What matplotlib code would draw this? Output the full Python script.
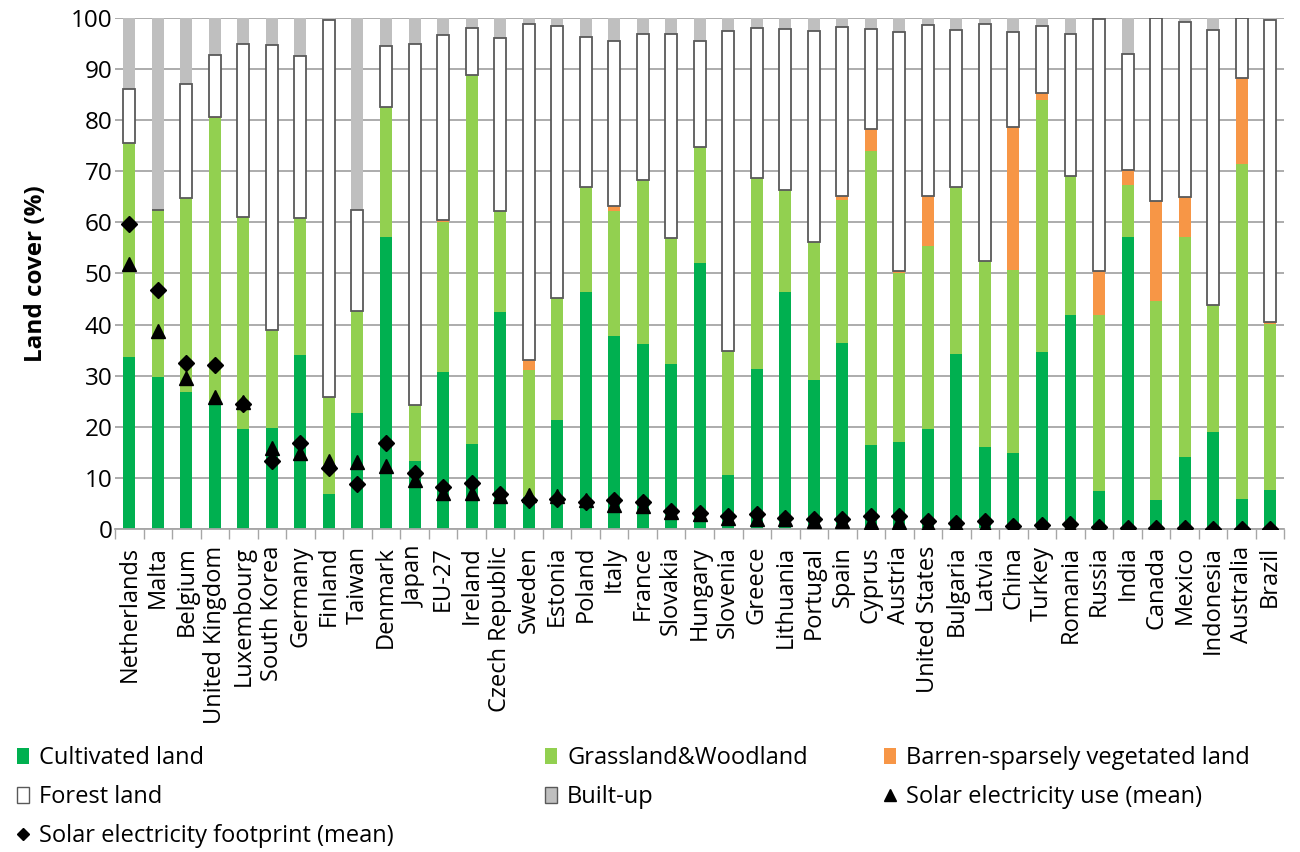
import numpy as np
import matplotlib.pyplot as plt
from matplotlib.patches import Patch
from matplotlib.lines import Line2D

plt.rcParams['font.family'] = ['Open Sans', 'DejaVu Sans']

countries = ['Netherlands', 'Malta', 'Belgium', 'United Kingdom', 'Luxembourg',
             'South Korea', 'Germany', 'Finland', 'Taiwan', 'Denmark', 'Japan',
             'EU-27', 'Ireland', 'Czech Republic', 'Sweden', 'Estonia', 'Poland',
             'Italy', 'France', 'Slovakia', 'Hungary', 'Slovenia', 'Greece',
             'Lithuania', 'Portugal', 'Spain', 'Cyprus', 'Austria', 'United States',
             'Bulgaria', 'Latvia', 'China', 'Turkey', 'Romania', 'Russia', 'India',
             'Canada', 'Mexico', 'Indonesia', 'Australia', 'Brazil']

# land cover shares (%)
cultivated = [33.7, 29.8, 26.9, 25.0, 19.5, 19.8, 34.1, 6.8, 22.7, 57.1, 13.4,
              30.8, 16.6, 42.5, 6.3, 21.4, 46.3, 37.7, 36.2, 32.2, 52.1, 10.5,
              31.3, 46.3, 29.1, 36.5, 16.4, 17.1, 19.5, 34.3, 16.1, 14.9, 34.6,
              41.8, 7.5, 57.1, 5.7, 14.1, 18.9, 5.9, 7.6]
grassland = [41.8, 32.6, 37.9, 55.5, 41.6, 19.1, 26.8, 19.1, 20.0, 25.5, 10.8,
             29.2, 72.2, 19.7, 24.9, 23.9, 20.6, 24.6, 32.0, 24.7, 22.7, 24.4,
             37.3, 20.0, 27.0, 27.9, 57.5, 32.9, 35.8, 32.6, 36.4, 35.8, 49.4,
             27.2, 34.4, 10.3, 38.9, 43.1, 25.0, 65.6, 32.5]
barren = [0.0, 0.0, 0.0, 0.2, 0.0, 0.0, 0.0, 0.0, 0.0, 0.0, 0.0,
          0.5, 0.0, 0.0, 1.8, 0.0, 0.0, 1.0, 0.0, 0.0, 0.0, 0.0,
          0.0, 0.0, 0.0, 0.8, 4.4, 0.4, 9.9, 0.0, 0.0, 27.9, 1.3,
          0.0, 8.5, 2.9, 19.5, 7.8, 0.0, 16.7, 0.5]
forest = [10.6, 0.0, 22.3, 12.0, 33.8, 55.8, 31.6, 73.6, 19.7, 11.9, 70.7,
          36.1, 9.3, 33.8, 65.8, 53.2, 29.4, 32.2, 28.6, 39.9, 20.7, 62.5,
          29.5, 31.5, 41.3, 33.0, 19.6, 46.8, 33.4, 30.8, 46.3, 18.6, 13.1,
          27.8, 49.4, 22.7, 35.8, 34.2, 53.8, 11.8, 59.0]
builtup = [100 - a - b - c - d for a, b, c, d in zip(cultivated, grassland, barren, forest)]

# solar electricity (mean values)
solar_use = [51.8, 38.7, 29.6, 25.9, 24.9, 15.8, 14.9, 13.4, 13.2, 12.4, 9.7,
             7.1, 7.1, 6.4, 6.6, 6.4, 5.6, 4.8, 4.6, 3.4, 2.9, 2.2, 1.9, 1.9,
             1.6, 1.6, 1.4, 1.4, 1.0, 0.9, 0.7, 0.3, 0.5, 0.6, 0.2, 0.1, 0.1,
             0.1, 0.05, 0.05, 0.05]
solar_footprint = [59.7, 46.7, 32.5, 32.1, 24.5, 13.4, 16.8, 12.0, 8.9, 16.8, 11.0,
                   8.3, 9.1, 6.8, 5.7, 5.9, 5.3, 5.7, 5.3, 3.6, 3.2, 2.5, 2.9,
                   2.2, 1.9, 1.9, 2.6, 2.5, 1.5, 1.2, 1.6, 0.6, 0.8, 0.9, 0.5,
                   0.3, 0.3, 0.2, 0.1, 0.1, 0.1]

c_cult = '#00B050'
c_grass = '#92D050'
c_barren = '#F79646'
c_built = '#BFBFBF'
edge = '#595959'

fig = plt.figure(figsize=(13, 8.52), dpi=100)
ax = fig.add_axes([0.0885, 0.379, 0.8995, 0.6])

x = np.arange(len(countries))
w = 0.42
bottom = np.zeros(len(countries))
ax.bar(x, cultivated, w, bottom=bottom, color=c_cult, zorder=2)
bottom += cultivated
ax.bar(x, grassland, w, bottom=bottom, color=c_grass, zorder=2)
bottom += grassland
ax.bar(x, barren, w, bottom=bottom, color=c_barren, zorder=2)
bottom += barren
ax.bar(x, forest, w, bottom=bottom, color='white', edgecolor=edge, linewidth=1.3, zorder=3)
bottom += forest
ax.bar(x, builtup, w, bottom=bottom, color=c_built, zorder=2)

ax.plot(x, solar_footprint, 'D', color='black', markersize=8, zorder=5)
ax.plot(x, solar_use, '^', color='black', markersize=10, zorder=6)

ax.set_xlim(-0.5, len(countries) - 0.5)
ax.set_ylim(0, 100)
ax.set_yticks(np.arange(0, 101, 10))
ax.yaxis.grid(True, color='#A6A6A6', linewidth=1.3, zorder=0)
ax.set_axisbelow(True)
ax.tick_params(axis='y', length=0, labelsize=17.5, pad=2)

ax.set_xticks(x)
ax.set_xticklabels(countries, rotation=90, fontsize=17)
ax.set_xticks(np.arange(-0.5, len(countries)), minor=True)
ax.tick_params(axis='x', which='major', length=0, pad=12)
ax.tick_params(axis='x', which='minor', length=7, width=1, color='#A6A6A6', direction='out')

for side in ['top', 'right', 'left']:
    ax.spines[side].set_visible(False)
ax.spines['bottom'].set_color('#A6A6A6')
ax.spines['bottom'].set_linewidth(1.3)

ax.set_ylabel('Land cover (%)', fontsize=17.5, fontweight='bold', labelpad=16)

# legend laid out as three columns
h_cult = Patch(facecolor=c_cult, label='Cultivated land')
h_grass = Patch(facecolor=c_grass, label='Grassland&Woodland')
h_barren = Patch(facecolor=c_barren, label='Barren-sparsely vegetated land')
h_forest = Patch(facecolor='white', edgecolor=edge, linewidth=1, label='Forest land')
h_built = Patch(facecolor=c_built, edgecolor=edge, linewidth=1, label='Built-up')
h_use = Line2D([], [], marker='^', color='black', linestyle='none', markersize=8,
               label='Solar electricity use (mean)')
h_fp = Line2D([], [], marker='D', color='black', linestyle='none', markersize=6,
              label='Solar electricity footprint (mean)')

columns = [([h_cult, h_forest, h_fp], 0.013),
           ([h_grass, h_built], 0.419),
           ([h_barren, h_use], 0.680)]
for handles, x0 in columns:
    fig.legend(handles=handles, loc='upper left', bbox_to_anchor=(x0, 0.124),
               frameon=False, fontsize=17, handlelength=0.5, handleheight=0.7,
               handletextpad=0.45, labelspacing=0.63, borderaxespad=0, borderpad=0)

fig.savefig('out.png', dpi=100)
